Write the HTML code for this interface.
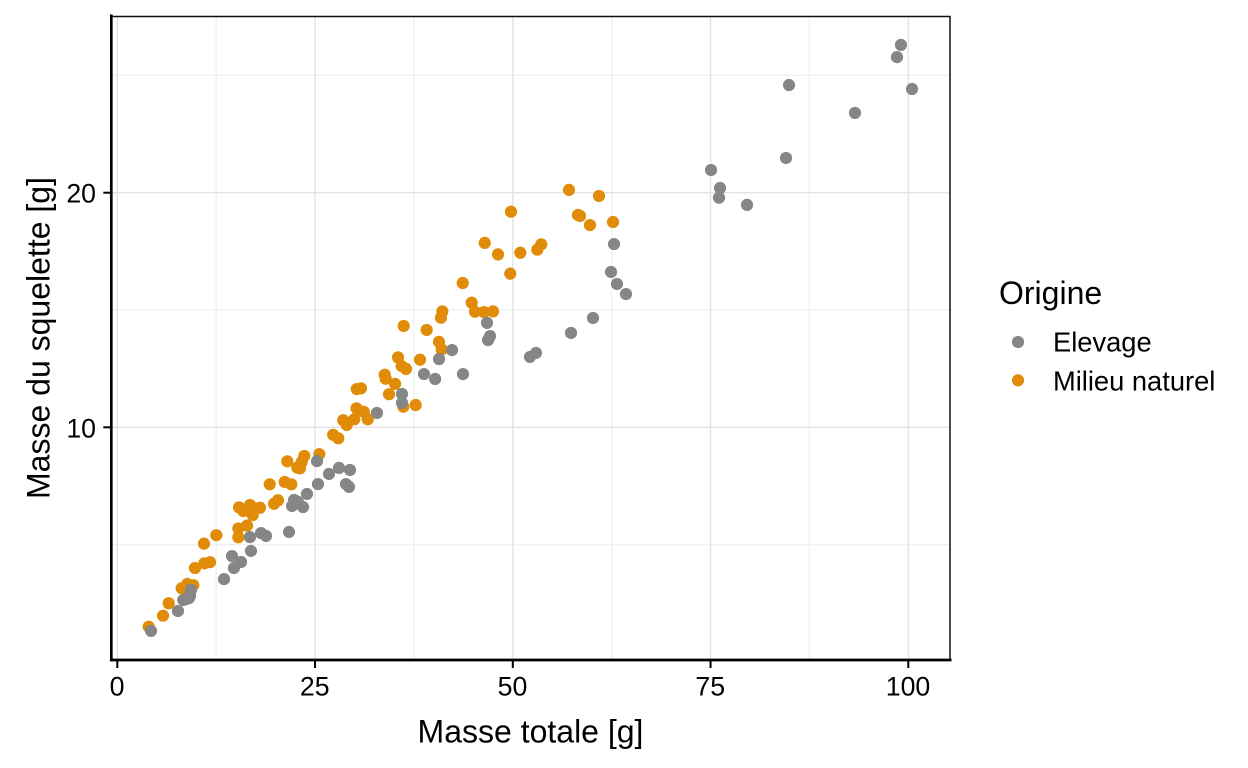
<!DOCTYPE html>
<html lang="fr">
<head>
<meta charset="utf-8">
<title>Masse du squelette selon la masse totale</title>
<style>
html,body{margin:0;padding:0;background:#fff;width:1248px;height:768px;overflow:hidden}
svg{display:block;font-family:"Liberation Sans",Arial,sans-serif;fill:#000}
</style>
</head>
<body>
<svg id="chart" width="1248" height="768" viewBox="0 0 1248 768" xmlns="http://www.w3.org/2000/svg">
  <rect x="0" y="0" width="1248" height="768" fill="#fff"/>
  <g id="grid"></g>
  <g id="points-naturel"></g>
  <g id="points-elevage"></g>
  <g id="axes"></g>
  <text x="530.5" y="742.5" font-size="32" text-anchor="middle">Masse totale [g]</text>
  <text transform="translate(49.5 338) rotate(-90)" font-size="32" text-anchor="middle">Masse du squelette [g]</text>
  <g>
    <text x="999" y="304" font-size="32">Origine</text>
    <circle cx="1018" cy="342" r="6.1" fill="#868686"/>
    <text x="1053" y="351.5" font-size="27.3">Elevage</text>
    <circle cx="1018" cy="380.3" r="6.1" fill="#E18C08"/>
    <text x="1053" y="390.5" font-size="27.3">Milieu naturel</text>
  </g>
</svg>
<script>
const xTickValues = [0, 25, 50, 75, 100];
const yTickValues = [10, 20];
const xMinorValues = [12.5, 37.5, 62.5, 87.5];
const yMinorValues = [5, 15, 25];

const elevageMasseTotale = [4.26,7.67,8.34,8.69,9.06,9.19,9.32,13.49,14.75,14.50,15.64,16.90,16.77,18.17,18.80,21.71,22.09,22.34,22.84,23.48,23.98,25.37,25.25,26.76,28.03,29.42,28.91,29.29,32.83,35.99,35.99,38.77,40.18,40.67,42.32,43.70,52.17,52.93,46.74,46.87,47.12,57.36,60.14,62.42,62.80,63.17,64.31,75.06,76.20,76.07,79.61,84.54,84.92,93.26,98.57,99.07,100.47];
const elevageMasseSquelette = [1.32,2.17,2.64,2.68,2.72,2.81,3.07,3.53,4.00,4.51,4.26,4.73,5.32,5.49,5.37,5.54,6.65,6.90,6.82,6.60,7.16,7.58,8.56,8.01,8.27,8.18,7.58,7.46,10.61,11.42,11.04,12.27,12.06,12.91,13.29,12.27,13.00,13.17,14.45,13.72,13.89,14.02,14.66,16.62,17.81,16.11,15.68,20.97,20.20,19.79,19.48,21.48,24.59,23.40,25.78,26.30,24.42];

const naturelMasseTotale = [3.97,5.78,6.50,8.14,8.85,9.61,9.82,11.00,11.72,10.96,12.52,15.30,15.30,16.40,15.39,15.93,16.78,17.12,16.87,18.04,19.81,20.32,19.27,21.16,22.00,21.49,22.76,23.10,23.31,23.64,25.54,27.29,27.94,28.56,29.00,29.96,30.24,30.43,31.16,31.66,30.27,30.81,33.81,33.93,35.11,34.35,36.16,37.72,35.49,35.95,36.50,36.21,38.27,39.11,40.67,41.01,40.92,41.09,43.67,44.80,45.22,46.36,47.50,46.45,48.13,49.77,49.68,50.95,53.10,53.60,57.10,60.90,58.24,58.50,59.76,62.67];
const naturelMasseSquelette = [1.50,1.97,2.50,3.14,3.32,3.27,4.00,4.20,4.25,5.04,5.40,5.31,5.69,5.81,6.59,6.43,6.69,6.26,6.40,6.57,6.74,6.89,7.57,7.67,7.57,8.55,8.28,8.25,8.52,8.78,8.86,9.68,9.53,10.30,10.10,10.34,10.81,10.74,10.66,10.34,11.63,11.66,12.24,12.07,11.85,11.41,10.88,10.95,12.98,12.61,12.49,14.32,12.88,14.15,13.64,13.32,14.67,14.94,16.15,15.31,14.93,14.91,14.94,17.86,17.37,19.19,16.55,17.44,17.57,17.80,20.12,19.86,19.05,19.01,18.62,18.75];

const NS = 'http://www.w3.org/2000/svg';
const panel = { left: 111.3, right: 950, top: 16.5, bottom: 660 };
const xScale = v => 117.3 + v * 7.91;
const yScale = v => 427.3 - (v - 10) * 23.46;

function make(tag, attrs, parent) {
  const el = document.createElementNS(NS, tag);
  for (const k in attrs) el.setAttribute(k, attrs[k]);
  parent.appendChild(el);
  return el;
}

const grid = document.getElementById('grid');
xMinorValues.forEach(v => {
  const el = make('line', { x1: xScale(v), x2: xScale(v), y1: panel.top, y2: panel.bottom, stroke: '#f0f0f0', 'stroke-width': 1.3 }, grid);
  
  
});
yMinorValues.forEach(v => {
  const el = make('line', { x1: panel.left, x2: panel.right, y1: yScale(v), y2: yScale(v), stroke: '#f0f0f0', 'stroke-width': 1.3 }, grid);
  
  
});
xTickValues.forEach(v => {
  const el = make('line', { x1: xScale(v), x2: xScale(v), y1: panel.top, y2: panel.bottom, stroke: '#e3e3e3', 'stroke-width': 1.4 }, grid);
  
  
});
yTickValues.forEach(v => {
  const el = make('line', { x1: panel.left, x2: panel.right, y1: yScale(v), y2: yScale(v), stroke: '#e3e3e3', 'stroke-width': 1.4 }, grid);
  
  
});

const naturelGroup = document.getElementById('points-naturel');
naturelMasseTotale.forEach((v, i) => {
  const el = make('circle', { cx: xScale(v), cy: yScale(naturelMasseSquelette[i]), r: 6.1, fill: '#E18C08' }, naturelGroup);
  
  
});
const elevageGroup = document.getElementById('points-elevage');
elevageMasseTotale.forEach((v, i) => {
  const el = make('circle', { cx: xScale(v), cy: yScale(elevageMasseSquelette[i]), r: 6.1, fill: '#868686' }, elevageGroup);
  
  
});

const axes = document.getElementById('axes');
const borderTop = make('line', { x1: panel.left, x2: panel.right + 0.7, y1: panel.top, y2: panel.top, stroke: '#111', 'stroke-width': 1.5 }, axes);


const borderRight = make('line', { x1: panel.right, x2: panel.right, y1: panel.top, y2: panel.bottom, stroke: '#111', 'stroke-width': 1.5 }, axes);


const axisLeft = make('line', { x1: panel.left, x2: panel.left, y1: 14.5, y2: 661.4, stroke: '#000', 'stroke-width': 2.7 }, axes);


const axisBottom = make('line', { x1: 110, x2: 951.5, y1: panel.bottom, y2: panel.bottom, stroke: '#000', 'stroke-width': 2.7 }, axes);



xTickValues.forEach(v => {
  const tick = make('line', { x1: xScale(v), x2: xScale(v), y1: panel.bottom, y2: panel.bottom + 8, stroke: '#000', 'stroke-width': 2 }, axes);
  
  
  const label = make('text', { x: xScale(v) - 0.3, y: 695.3, 'font-size': 26.7, 'text-anchor': 'middle' }, axes);
  label.textContent = String(v);
  
  
});
yTickValues.forEach(v => {
  const tick = make('line', { x1: panel.left - 8, x2: panel.left, y1: yScale(v), y2: yScale(v), stroke: '#000', 'stroke-width': 2 }, axes);
  
  
  const label = make('text', { x: 96, y: yScale(v) + 10, 'font-size': 26.7, 'text-anchor': 'end' }, axes);
  label.textContent = String(v);
  
  
});
</script>
</body>
</html>
